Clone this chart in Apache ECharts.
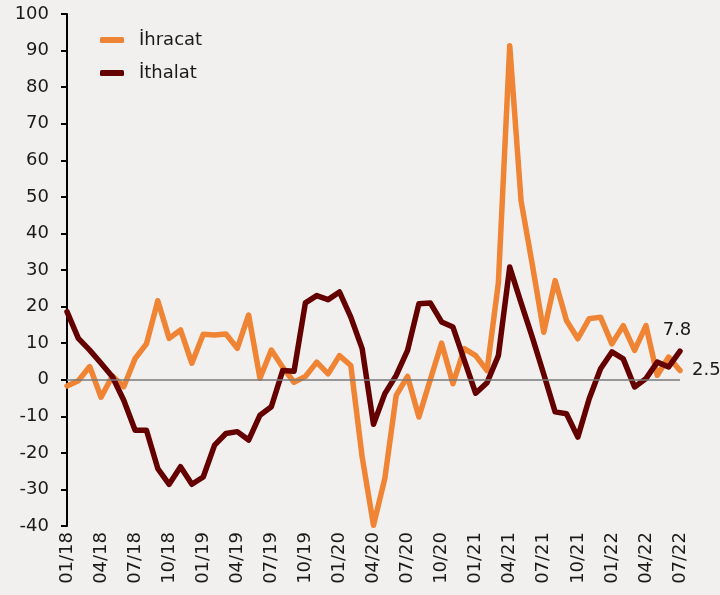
<!DOCTYPE html>
<html>
<head>
<meta charset="utf-8">
<script src="https://cdn.jsdelivr.net/npm/echarts@6/dist/echarts.min.js"></script>
<style>
  html, body { margin: 0; padding: 0; background: #F2F0EF; }
  #chart { width: 720px; height: 595px; }
</style>
</head>
<body>
<div id="chart"></div>
<script>
// aylar (01/18 - 07/22)
var months = [
  '01/18', '02/18', '03/18', '04/18', '05/18', '06/18', '07/18', '08/18', '09/18', '10/18', '11/18', '12/18',
  '01/19', '02/19', '03/19', '04/19', '05/19', '06/19', '07/19', '08/19', '09/19', '10/19', '11/19', '12/19',
  '01/20', '02/20', '03/20', '04/20', '05/20', '06/20', '07/20', '08/20', '09/20', '10/20', '11/20', '12/20',
  '01/21', '02/21', '03/21', '04/21', '05/21', '06/21', '07/21', '08/21', '09/21', '10/21', '11/21', '12/21',
  '01/22', '02/22', '03/22', '04/22', '05/22', '06/22', '07/22'
];

var ihracat = [
  -1.7, -0.3, 3.6, -4.8, 1.0, -1.9, 5.8, 9.8, 21.6, 11.3, 13.6, 4.5,
  12.4, 12.2, 12.5, 8.6, 17.7, 0.4, 8.1, 3.4, -0.7, 0.9, 4.8, 1.6,
  6.6, 3.9, -21.1, -39.8, -27.0, -4.3, 0.9, -10.2, 0.0, 10.0, -1.1, 8.5,
  6.6, 2.5, 26.5, 91.3, 48.9, 31.3, 13.0, 27.1, 16.2, 11.2, 16.7, 17.1,
  9.8, 14.8, 8.0, 14.8, 1.2, 6.2, 2.5
];

var ithalat = [
  18.6, 11.3, 8.1, 4.5, 0.8, -5.6, -13.8, -13.8, -24.3, -28.6, -23.8, -28.6,
  -26.6, -17.9, -14.7, -14.2, -16.5, -9.7, -7.4, 2.5, 2.3, 21.0, 23.0, 21.9,
  24.0, 17.1, 8.5, -12.2, -3.8, 1.2, 8.0, 20.8, 21.0, 15.8, 14.4, 5.3,
  -3.7, -0.8, 6.6, 30.8, 21.0, 11.5, 1.5, -8.8, -9.3, -15.7, -5.2, 3.0,
  7.6, 5.7, -2.0, 0.3, 4.8, 3.5, 7.8
];

var seriesNames = ['İhracat', 'İthalat'];
var colors = ['#EF8434', '#640000'];

var fontFamily = '"DejaVu Sans", Verdana, sans-serif';
var lastIdx = months.length - 1;

var myChart = echarts.init(document.getElementById('chart'));

// sadece son noktada etiket göster
function lastLabel(params) {
  return params.dataIndex === lastIdx ? String(params.value) : '';
}

var option = {
  backgroundColor: '#F2F0EF',
  animation: false,
  textStyle: { fontFamily: fontFamily },
  grid: { left: 67, right: 40, top: 14, bottom: 69 },
  legend: {
    orient: 'vertical',
    left: 100,
    top: 30,
    padding: 0,
    itemWidth: 24,
    itemHeight: 6,
    itemGap: 13,
    icon: 'roundRect',
    data: seriesNames,
    textStyle: { fontSize: 18, color: '#1a1a1a', fontFamily: fontFamily, lineHeight: 20, padding: [0, 0, 0, 10] }
  },
  xAxis: {
    type: 'category',
    data: months,
    boundaryGap: false,
    axisLine: { show: false },
    axisTick: { show: false },
    axisLabel: {
      interval: 2,
      rotate: 90,
      margin: 6,
      fontSize: 18,
      color: '#1a1a1a',
      fontFamily: fontFamily
    },
    splitLine: { show: false }
  },
  yAxis: {
    type: 'value',
    min: -40,
    max: 100,
    interval: 10,
    axisLine: { show: true, lineStyle: { color: '#000', width: 2 } },
    axisTick: { show: true, inside: false, length: 6, lineStyle: { color: '#000', width: 2 } },
    axisLabel: { fontSize: 18, color: '#1a1a1a', margin: 18, fontFamily: fontFamily },
    splitLine: { show: false }
  },
  series: [
    {
      // sıfır çizgisi
      name: 'zero',
      type: 'line',
      data: [],
      z: 1,
      silent: true,
      markLine: {
        silent: true,
        symbol: 'none',
        label: { show: false },
        lineStyle: { color: '#7a7a7a', width: 1.5, type: 'solid' },
        data: [{ yAxis: 0 }]
      }
    },
    {
      name: seriesNames[0],
      type: 'line',
      data: ihracat,
      z: 3,
      symbol: 'circle',
      symbolSize: 0,
      showSymbol: true,
      color: colors[0],
      lineStyle: { width: 5.5, color: colors[0], cap: 'round', join: 'round' },
      label: {
        show: true,
        position: 'right',
        distance: 12,
        fontSize: 18,
        color: '#1a1a1a',
        formatter: lastLabel
      }
    },
    {
      name: seriesNames[1],
      type: 'line',
      data: ithalat,
      z: 4,
      symbol: 'circle',
      symbolSize: 0,
      showSymbol: true,
      color: colors[1],
      lineStyle: { width: 5.5, color: colors[1], cap: 'round', join: 'round' },
      label: {
        show: true,
        position: 'top',
        distance: 12,
        offset: [-3, 0],
        fontSize: 18,
        color: '#1a1a1a',
        formatter: lastLabel
      }
    }
  ]
};

myChart.setOption(option);
</script>
</body>
</html>
